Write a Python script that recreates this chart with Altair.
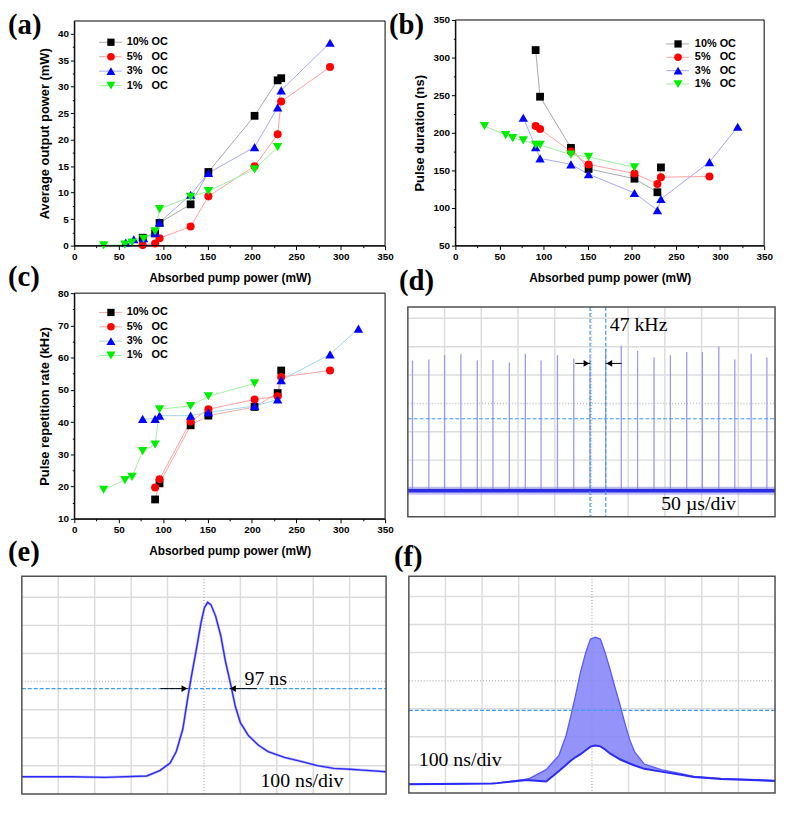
import altair as alt
import pandas as pd

# ---------------- values ----------------
LABELS = ["10% OC", "5%   OC", "3%   OC", "1%   OC"]

# (a) average output power (mW) vs absorbed pump power (mW)
a_pump_10 = [77, 91, 96, 131, 151, 203, 229, 233]
a_out_10 = [1.5, 2.3, 4.3, 7.8, 13.9, 24.5, 31.2, 31.6]
a_pump_5 = [77, 91, 96, 131, 151, 203, 229, 233, 288]
a_out_5 = [0.1, 0.4, 1.4, 3.6, 9.3, 15.0, 21.0, 27.2, 33.7]
a_pump_3 = [58, 67, 78, 91, 96, 131, 151, 203, 229, 233, 288]
a_out_3 = [0.6, 1.2, 1.4, 2.4, 4.4, 9.6, 13.7, 18.6, 26.1, 29.3, 38.3]
a_pump_1 = [33, 57, 65, 78, 91, 96, 131, 151, 203, 229]
a_out_1 = [0.05, 0.2, 0.6, 1.3, 2.7, 6.9, 9.2, 10.3, 14.4, 18.6]

# (b) pulse duration (ns)
b_pump_10 = [91, 96, 131, 151, 203, 229, 233]
b_dur_10 = [310, 248, 180, 152, 139, 121, 154]
b_pump_5 = [91, 96, 131, 151, 203, 229, 233, 288]
b_dur_5 = [209, 205, 175, 158, 146, 132, 141, 142]
b_pump_3 = [77, 91, 96, 131, 151, 203, 229, 233, 288, 320]
b_dur_3 = [220, 181, 166, 158, 145, 120, 97, 112, 161, 208]
b_pump_1 = [33, 57, 65, 77, 91, 96, 131, 151, 203]
b_dur_1 = [209, 197, 193, 190, 184, 184, 171, 168, 154]

# (c) pulse repetition rate (kHz)
c_pump_10 = [91, 96, 131, 151, 203, 229, 233]
c_rate_10 = [16, 21, 39, 42, 44.7, 49, 56]
c_pump_5 = [91, 96, 131, 151, 203, 229, 233, 288]
c_rate_5 = [19.7, 22.3, 40.2, 44, 47, 48, 54, 56]
c_pump_3 = [77, 91, 96, 131, 151, 203, 229, 233, 288, 320]
c_rate_3 = [41, 41, 42, 42, 43, 45, 47, 53, 61, 69]
c_pump_1 = [33, 57, 65, 77, 91, 96, 131, 151, 203]
c_rate_1 = [19, 22, 23, 31, 33, 44, 45, 48, 52]

X_MAJOR = [0, 50, 100, 150, 200, 250, 300, 350]
X_MINOR = [25, 75, 125, 175, 225, 275, 325]
A_MAJOR = [0, 5, 10, 15, 20, 25, 30, 35, 40]
A_MINOR = [2.5, 7.5, 12.5, 17.5, 22.5, 27.5, 32.5, 37.5]
B_MAJOR = [50, 100, 150, 200, 250, 300, 350]
B_MINOR = [75, 125, 175, 225, 275, 325]
C_MAJOR = [10, 20, 30, 40, 50, 60, 70, 80]
C_MINOR = [15, 25, 35, 45, 55, 65, 75]

# (d) pulse train, 50 us/div; time in us, level in screen divisions
d_spike_us = [6.3, 28.6, 50.0, 72.2, 94.5, 115.9, 138.2, 160.0, 181.4, 203.7, 225.9, 248.1,
              269.3, 290.6, 312.8, 335.2, 357.5, 379.7, 401.1, 423.4, 445.2, 467.5, 488.9]
d_spike_div = [5.51, 5.55, 5.70, 5.75, 5.51, 5.53, 5.44, 5.75, 5.51, 5.70, 5.58, 5.57,
               5.91, 6.04, 5.85, 5.62, 5.70, 5.81, 5.81, 6.01, 5.55, 5.75, 5.62]
d_base_us = [0, 500]
d_base_div = [0.92, 0.92]
d_grid_us = [50, 100, 150, 200, 300, 350, 400, 450]
d_grid_div = [1, 2, 3, 5, 6, 7]
d_cursor_us = [248.1, 269.5]
d_cursor_div = [3.46]
d_arrow_from = [228, 291]
d_arrow_to = [248.1, 269.5]
d_arrow_div = 5.41

# (e) single pulse, 100 ns/div
e_t_ns = [0, 137, 227, 343, 380, 407, 424, 442, 456, 465, 478, 492, 501, 510, 519, 532, 546,
          559, 573, 586, 600, 622, 649, 676, 721, 766, 811, 856, 901, 946, 1000]
e_v_div = [0.61, 0.61, 0.59, 0.64, 0.84, 1.10, 1.51, 2.31, 3.46, 4.15, 5.07, 6.10, 6.62, 6.82,
           6.74, 6.33, 5.64, 4.72, 3.92, 3.12, 2.54, 2.08, 1.74, 1.51, 1.30, 1.16, 1.01, 0.91,
           0.88, 0.84, 0.79]
e_grid_ns = [100, 200, 300, 400, 600, 700, 800, 900]
e_grid_div = [1, 2, 3, 5, 6, 7]
e_cursor_div = [3.75]
e_arrow_from = [381, 645]
e_arrow_to = [456, 570]

# (f) modulated pulse, 100 ns/div: lower and upper envelope of the trace
f_t_ns = [0, 228, 241, 316, 330, 375, 410, 429, 442, 456, 469, 483, 496, 509, 523, 536, 550,
          563, 576, 590, 603, 617, 643, 689, 743, 778, 852, 1000]
f_hi_div = [0.31, 0.34, 0.35, 0.48, 0.52, 0.83, 1.34, 2.03, 2.72, 3.52, 4.31, 5.00, 5.48, 5.55,
            5.48, 5.00, 4.38, 3.76, 3.17, 2.48, 1.90, 1.45, 1.03, 0.83, 0.69, 0.59, 0.52, 0.45]
f_lo_div = [0.31, 0.34, 0.35, 0.45, 0.45, 0.41, 0.78, 1.00, 1.15, 1.28, 1.38, 1.52, 1.65, 1.69,
            1.66, 1.55, 1.40, 1.30, 1.20, 1.12, 1.05, 0.98, 0.86, 0.76, 0.65, 0.57, 0.50, 0.43]
f_cursor_div = [2.94]

# ---------------- layout / style ----------------
W, H = 779, 792
SANS = "Liberation Sans"
SERIF = "Liberation Serif"
ONE = pd.DataFrame({"k": [0]})
MARK_COLORS = ["#000000", "#ff0000", "#0000ff", "#00ee00"]
SHAPES = ["square", "circle", "triangle-up", "triangle-down"]
MARK_SIZES = [62, 66, 90, 90]
LINE_AB = ["#a8a8a8", "#ffa0a0", "#a6a6ff", "#a0f0a0"]
LINE_C = ["#f6a8a8", "#ffa0a0", "#a0d8e4", "#a0f0a0"]
GRID = "#dcdcdc"
CURSOR = "#3d9cf5"
TRACE = "#2b2bf5"


def txt(s, x, y, size, font=SERIF, weight="bold", baseline="alphabetic"):
    return alt.Chart(ONE).mark_text(
        text=s, font=font, fontSize=size, fontWeight=weight, align="left",
        baseline=baseline, color="black"
    ).encode(x=alt.value(x), y=alt.value(y))


def frame(x0, x1, y0, y1, color, width):
    return alt.Chart(ONE).mark_rect(
        fill="white", fillOpacity=0, stroke=color, strokeWidth=width
    ).encode(x=alt.value(x0), x2=alt.value(x1), y=alt.value(y0), y2=alt.value(y1))


def major_axis(orient, offset, values, title, tsize, tpad):
    return alt.Axis(
        orient=orient, offset=offset, values=values, title=title, grid=False,
        domain=True, domainColor="black", domainWidth=1, ticks=True, tickSize=4,
        tickColor="black", tickWidth=1, labelFont=SANS, labelFontSize=10,
        labelFontWeight="bold", labelColor="black", labelPadding=2, labelFlush=False,
        labelOverlap=False, titleFont=SANS, titleFontSize=tsize, titleFontWeight="bold",
        titleColor="black", titlePadding=tpad)


def minor_axis(orient, offset, values):
    return alt.Axis(
        orient=orient, offset=offset, values=values, title=None, grid=False,
        domain=False, labels=False, ticks=True, tickSize=2, tickColor="black", tickWidth=1)


def xy_panel(rect, pumps, vals, ydom, ymajor, yminor, ytitle, line_colors, leg, label, lab_xy):
    x0, x1, y0, y1 = rect
    sx = alt.Scale(domain=[0, 350], range=[x0, x1], nice=False, zero=False)
    sy = alt.Scale(domain=ydom, range=[y1, y0], nice=False, zero=False)
    xmaj = major_axis("bottom", y1 - H, X_MAJOR, "Absorbed pump power (mW)", 12, 11)
    ymaj = major_axis("left", -x0, ymajor, ytitle, 13, 6)
    xmin = minor_axis("bottom", y1 - H, X_MINOR)
    ymin = minor_axis("left", -x0, yminor)
    layers = []
    for i, (p, v) in enumerate(zip(pumps, vals)):
        df = pd.DataFrame({"pump": p, "val": v})
        layers.append(alt.Chart(df).mark_line(color=line_colors[i], strokeWidth=1).encode(
            x=alt.X("pump:Q", scale=sx, axis=xmaj if i == 0 else None),
            y=alt.Y("val:Q", scale=sy, axis=ymaj if i == 0 else None)))
    for i, (p, v) in enumerate(zip(pumps, vals)):
        df = pd.DataFrame({"pump": p, "val": v})
        layers.append(alt.Chart(df).mark_point(
            filled=True, shape=SHAPES[i], size=MARK_SIZES[i], color=MARK_COLORS[i],
            opacity=1).encode(
            x=alt.X("pump:Q", scale=sx, axis=xmin if i == 0 else None),
            y=alt.Y("val:Q", scale=sy, axis=ymin if i == 0 else None)))
    mx, tx, ly0, dy = leg
    for i in range(4):
        ly = ly0 + i * dy
        layers.append(alt.Chart(ONE).mark_rule(color=line_colors[i], strokeWidth=1).encode(
            x=alt.value(mx - 12), x2=alt.value(mx + 11), y=alt.value(ly)))
        layers.append(alt.Chart(ONE).mark_point(
            filled=True, shape=SHAPES[i], size=MARK_SIZES[i] - 8, color=MARK_COLORS[i],
            opacity=1).encode(x=alt.value(mx), y=alt.value(ly)))
        layers.append(txt(LABELS[i].replace(" ", "\u00a0"), tx, ly, 11, font=SANS,
                          baseline="middle"))
    layers.append(frame(x0, x1, y0, y1, "black", 1))
    layers.append(txt(label, lab_xy[0], lab_xy[1], 29))
    return alt.layer(*layers).resolve_axis(x="independent", y="independent")


def grid_layers(rect, sx, sy, gx, gy, cx, cy):
    x0, x1, y0, y1 = rect
    out = [
        alt.Chart(pd.DataFrame({"g": gx})).mark_rule(color=GRID, strokeWidth=1.5).encode(
            x=alt.X("g:Q", scale=sx, axis=None), y=alt.value(y0), y2=alt.value(y1)),
        alt.Chart(pd.DataFrame({"g": gy})).mark_rule(color=GRID, strokeWidth=1.5).encode(
            y=alt.Y("g:Q", scale=sy, axis=None), x=alt.value(x0), x2=alt.value(x1)),
        alt.Chart(pd.DataFrame({"g": cx})).mark_rule(
            color="#bdbdbd", strokeWidth=1.5, strokeDash=[1, 2]).encode(
            x=alt.X("g:Q", scale=sx, axis=None), y=alt.value(y0), y2=alt.value(y1)),
        alt.Chart(pd.DataFrame({"g": cy})).mark_rule(
            color="#bdbdbd", strokeWidth=1.5, strokeDash=[1, 2]).encode(
            y=alt.Y("g:Q", scale=sy, axis=None), x=alt.value(x0), x2=alt.value(x1)),
    ]
    return out


def cursor_layers(rect, sx, sy, vx, hy):
    x0, x1, y0, y1 = rect
    out = []
    if vx:
        out.append(alt.Chart(pd.DataFrame({"g": vx})).mark_rule(
            color=CURSOR, strokeWidth=1.2, strokeDash=[4, 2]).encode(
            x=alt.X("g:Q", scale=sx, axis=None), y=alt.value(y0), y2=alt.value(y1)))
    out.append(alt.Chart(pd.DataFrame({"g": hy})).mark_rule(
        color=CURSOR, strokeWidth=1.2, strokeDash=[4, 2]).encode(
        y=alt.Y("g:Q", scale=sy, axis=None), x=alt.value(x0), x2=alt.value(x1)))
    return out


def arrow_layers(sx, sy, starts, tips, level, px_per_unit):
    out = []
    for s, t in zip(starts, tips):
        d = 1 if t > s else -1
        df = pd.DataFrame({"a": [s], "b": [t], "h": [t - d * 3.6 / px_per_unit], "lv": [level]})
        out.append(alt.Chart(df).mark_rule(color="black", strokeWidth=1).encode(
            x=alt.X("a:Q", scale=sx, axis=None), x2="b:Q",
            y=alt.Y("lv:Q", scale=sy, axis=None)))
        out.append(alt.Chart(df).mark_point(
            filled=True, color="black", opacity=1, size=45,
            shape="triangle-right" if d > 0 else "triangle-left").encode(
            x=alt.X("h:Q", scale=sx, axis=None), y=alt.Y("lv:Q", scale=sy, axis=None)))
    return out


# ---------------- panels (a)-(c) ----------------
pa = xy_panel((67, 381, 9, 236),
              [a_pump_10, a_pump_5, a_pump_3, a_pump_1], [a_out_10, a_out_5, a_out_3, a_out_1],
              [0, 42.4], A_MAJOR, A_MINOR, "Average output power (mW)", LINE_AB,
              (104, 120, 30.5, 14.6), "(a)", (0, 22))
pb = xy_panel((452, 764, 8, 236),
              [b_pump_10, b_pump_5, b_pump_3, b_pump_1], [b_dur_10, b_dur_5, b_dur_3, b_dur_1],
              [50, 350], B_MAJOR, B_MINOR, "Pulse duration (ns)", LINE_AB,
              (677, 694, 32.2, 13.5), "(b)", (385, 22))
pc = xy_panel((67, 381, 284, 512),
              [c_pump_10, c_pump_5, c_pump_3, c_pump_1], [c_rate_10, c_rate_5, c_rate_3, c_rate_1],
              [10, 80], C_MAJOR, C_MINOR, "Pulse repetition rate (kHz)", LINE_C,
              (104, 120, 303.5, 14.5), "(c)", (0, 277))

# ---------------- panel (d) ----------------
RD = (404, 775, 298, 510)
dsx = alt.Scale(domain=[0, 500], range=[RD[0], RD[1]], nice=False, zero=False)
dsy = alt.Scale(domain=[0, 7.4], range=[RD[3], RD[2]], nice=False, zero=False)
d_layers = grid_layers(RD, dsx, dsy, d_grid_us, d_grid_div, [250], [4])
d_spikes = pd.DataFrame({"t": d_spike_us, "peak": d_spike_div, "base": d_base_div[0]})
d_layers.append(alt.Chart(d_spikes).mark_rule(color="#9a9af4", strokeWidth=1.3).encode(
    x=alt.X("t:Q", scale=dsx, axis=None), y=alt.Y("base:Q", scale=dsy, axis=None), y2="peak:Q"))
d_base = pd.DataFrame({"t": d_base_us, "v": d_base_div})
d_layers.append(alt.Chart(d_base).mark_line(color="#7a7af2", strokeWidth=8, opacity=0.45).encode(
    x=alt.X("t:Q", scale=dsx, axis=None), y=alt.Y("v:Q", scale=dsy, axis=None)))
d_layers.append(alt.Chart(d_base).mark_line(color="#2d2de2", strokeWidth=3.5).encode(
    x=alt.X("t:Q", scale=dsx, axis=None), y=alt.Y("v:Q", scale=dsy, axis=None)))
d_layers += cursor_layers(RD, dsx, dsy, d_cursor_us, d_cursor_div)
d_layers += arrow_layers(dsx, dsy, d_arrow_from, d_arrow_to, d_arrow_div, 371 / 500)
d_layers.append(txt("47 kHz", 608, 322, 20, weight="normal"))
d_layers.append(txt("50 \u00b5s/div", 660, 503, 20, weight="normal"))
d_layers.append(frame(*RD, "#505050", 1.5))
d_layers.append(txt("(d)", 395, 281, 29))
pd_ = alt.layer(*d_layers)

# ---------------- panel (e) ----------------
RE = (14, 382, 570, 790)
esx = alt.Scale(domain=[0, 1000], range=[RE[0], RE[1]], nice=False, zero=False)
esy = alt.Scale(domain=[0, 7.75], range=[RE[3], RE[2]], nice=False, zero=False)
e_layers = grid_layers(RE, esx, esy, e_grid_ns, e_grid_div, [500], [4])
e_layers += cursor_layers(RE, esx, esy, [], e_cursor_div)
e_df = pd.DataFrame({"t": e_t_ns, "v": e_v_div})
e_layers.append(alt.Chart(e_df).mark_line(color="#6a6aff", strokeWidth=2.6, opacity=0.45).encode(
    x=alt.X("t:Q", scale=esx, axis=None), y=alt.Y("v:Q", scale=esy, axis=None)))
e_layers.append(alt.Chart(e_df).mark_line(color=TRACE, strokeWidth=1.4).encode(
    x=alt.X("t:Q", scale=esx, axis=None), y=alt.Y("v:Q", scale=esy, axis=None)))
e_layers += arrow_layers(esx, esy, e_arrow_from, e_arrow_to, e_cursor_div[0], 368 / 1000)
e_layers.append(txt("97 ns", 239, 680, 20, weight="normal"))
e_layers.append(txt("100 ns/div", 255, 783, 20, weight="normal"))
e_layers.append(frame(*RE, "#505050", 1.5))
e_layers.append(txt("(e)", 0, 555, 29))
pe = alt.layer(*e_layers)

# ---------------- panel (f) ----------------
RF = (405, 775, 570, 789)
fsx = alt.Scale(domain=[0, 1000], range=[RF[0], RF[1]], nice=False, zero=False)
fsy = alt.Scale(domain=[0, 7.72], range=[RF[3], RF[2]], nice=False, zero=False)
f_layers = grid_layers(RF, fsx, fsy, e_grid_ns, e_grid_div, [500], [4])
f_df = pd.DataFrame({"t": f_t_ns, "hi": f_hi_div, "lo": f_lo_div})
f_layers.append(alt.Chart(f_df).mark_area(color="#8080f8", opacity=0.85).encode(
    x=alt.X("t:Q", scale=fsx, axis=None), y=alt.Y("hi:Q", scale=fsy, axis=None), y2="lo:Q"))
f_layers.append(alt.Chart(f_df).mark_line(color="#5a5aff", strokeWidth=1.3).encode(
    x=alt.X("t:Q", scale=fsx, axis=None), y=alt.Y("hi:Q", scale=fsy, axis=None)))
f_layers.append(alt.Chart(f_df).mark_line(color=TRACE, strokeWidth=2).encode(
    x=alt.X("t:Q", scale=fsx, axis=None), y=alt.Y("lo:Q", scale=fsy, axis=None)))
f_layers += cursor_layers(RF, fsx, fsy, [], f_cursor_div)
f_layers.append(txt("100 ns/div", 415, 762, 20, weight="normal"))
f_layers.append(frame(*RF, "#505050", 1.5))
f_layers.append(txt("(f)", 390, 560, 29))
pf = alt.layer(*f_layers)

chart = alt.layer(pa, pb, pc, pd_, pe, pf).resolve_scale(
    x="independent", y="independent"
).properties(
    width=W, height=H, padding=0, autosize=alt.AutoSizeParams(type="none")
).configure_view(strokeWidth=0)

chart.save("out.html", embed_options={"renderer": "svg", "actions": False})
